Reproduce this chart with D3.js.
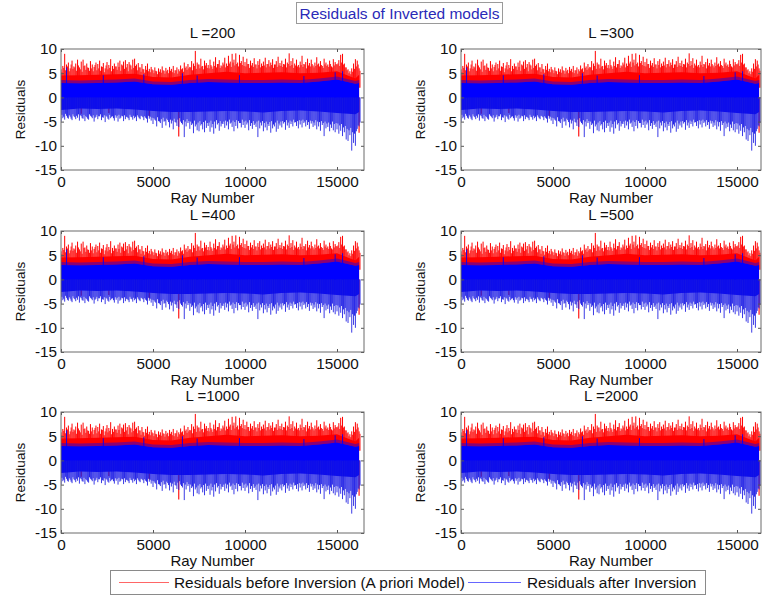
<!DOCTYPE html>
<html>
<head>
<meta charset="utf-8">
<script src="https://cdn.jsdelivr.net/npm/d3@7"></script>
<style>
  body { margin: 0; background: #fff; }
  svg { display: block; }
  text { font-family: "Liberation Sans", Arial, sans-serif; fill: #111; }
</style>
</head>
<body>
<svg id="chart" width="763" height="599"></svg>
<script>
// ---- Data -------------------------------------------------------------
const panelTitles = ["L =200", "L =300", "L =400", "L =500", "L =1000", "L =2000"];
const xTicks = [0, 5000, 10000, 15000];
const yTicks = [10, 5, 0, -5, -10, -15];
const yDomain = [-15, 10];

// Highest / lowest residual in each block of 100 rays (ray 0 … 16200)
const rayStep = 100;
const redPeak = [
  5.8, 6.5, 9.0, 6.8, 7.2, 6.0, 7.6, 6.4, 7.0, 7.8,
  6.2, 7.4, 7.8, 6.6, 7.0, 6.1, 7.5, 6.8, 6.3, 7.2,
  6.9, 7.6, 6.4, 7.1, 6.0, 7.3, 6.7, 7.9, 6.5, 7.0,
  6.4, 7.2, 7.6, 6.8, 7.4, 7.7, 6.9, 7.3, 6.6, 7.8,
  8.0, 6.8, 7.1, 6.2, 6.9, 5.8, 6.5, 7.0, 5.9, 6.3,
  5.6, 6.2, 5.4, 6.0, 5.8, 6.4, 5.5, 6.1, 5.7, 6.3,
  5.9, 6.5, 5.6, 6.2, 5.8, 6.6, 6.0, 7.2, 6.4, 6.9,
  6.3, 7.5, 7.0, 9.6, 7.2, 6.8, 8.0, 6.5, 7.6, 7.1,
  6.7, 7.8, 6.4, 7.4, 8.3, 6.9, 7.7, 6.6, 7.2, 8.2,
  7.0, 8.6, 7.4, 9.0, 7.8, 9.1, 7.2, 8.8, 7.5, 8.4,
  7.3, 8.0, 6.9, 7.6, 7.1, 8.1, 6.8, 7.5, 7.9, 7.0,
  7.4, 8.2, 6.9, 7.7, 7.2, 7.9, 6.8, 7.5, 8.4, 7.1,
  7.6, 6.9, 8.0, 7.2, 9.1, 7.5, 8.1, 7.0, 7.8, 6.7,
  7.4, 8.6, 6.9, 7.3, 8.0, 7.1, 7.8, 6.6, 7.2, 8.3,
  7.0, 7.5, 6.5, 8.0, 7.2, 6.8, 7.6, 6.4, 7.9, 7.3,
  6.8, 7.7, 8.8, 9.0, 7.0, 6.2, 5.8, 5.4, 6.0, 7.0,
  7.9, 7.6, 6.0
];
// Secondary maxima, half a block later (ray 50 … 16250)
const redShoulder = [
  5.2, 6.1, 5.6, 6.4, 5.4, 6.8, 5.9, 6.2, 5.5, 6.6,
  5.8, 5.3, 6.5, 5.7, 6.2, 5.5, 6.0, 5.4, 6.7, 5.6,
  6.0, 5.5, 6.3, 5.2, 6.6, 5.8, 6.1, 5.4, 5.9, 6.4,
  5.7, 6.3, 5.5, 6.6, 5.9, 6.2, 5.4, 6.8, 5.8, 6.1,
  6.5, 5.6, 6.2, 5.3, 5.9, 5.1, 5.7, 5.4, 5.2, 5.8,
  5.0, 5.5, 4.8, 5.3, 5.1, 5.6, 4.9, 5.4, 5.0, 5.5,
  5.2, 5.0, 5.6, 4.9, 5.4, 5.8, 5.3, 6.1, 5.7, 6.0,
  6.2, 5.6, 6.5, 5.9, 6.8, 6.0, 6.4, 5.8, 6.6, 6.1,
  6.0, 6.7, 5.9, 6.5, 6.2, 6.9, 6.1, 6.4, 6.8, 6.2,
  6.5, 7.0, 6.3, 7.2, 6.6, 6.9, 6.4, 7.1, 6.7, 6.5,
  6.4, 6.9, 6.1, 6.6, 6.3, 6.8, 6.0, 6.7, 6.2, 6.5,
  6.6, 6.2, 6.9, 6.4, 6.7, 6.1, 6.8, 6.3, 6.6, 6.5,
  6.3, 6.8, 6.2, 6.9, 6.5, 6.7, 6.1, 6.6, 6.4, 6.2,
  6.7, 6.3, 6.8, 6.0, 6.6, 6.4, 6.9, 6.2, 6.5, 6.8,
  6.4, 6.7, 6.1, 6.8, 6.5, 6.3, 6.9, 6.2, 6.6, 6.9,
  7.0, 6.5, 7.2, 6.8, 6.2, 5.6, 5.0, 4.8, 5.3, 5.9,
  6.4, 6.8, 5.5
];
const blueTrough = [
  -5.0, -4.3, -4.6, -3.8, -4.4, -4.0, -4.7, -3.9, -4.5, -4.2,
  -4.8, -3.9, -4.4, -4.9, -4.1, -4.6, -3.8, -4.3, -5.0, -4.0,
  -4.5, -3.9, -4.7, -4.2, -5.1, -4.0, -4.6, -4.3, -3.9, -4.8,
  -4.2, -5.0, -4.4, -3.8, -4.9, -4.5, -4.1, -4.7, -4.0, -4.6,
  -4.3, -4.9, -4.0, -4.5, -3.9, -4.7, -4.2, -5.2, -4.4, -4.8,
  -5.5, -4.6, -6.0, -4.9, -5.3, -6.3, -5.0, -5.8, -4.7, -6.2,
  -5.4, -6.6, -5.1, -5.9, -6.1, -5.0, -5.6, -8.2, -6.0, -5.3,
  -6.5, -5.7, -7.4, -6.0, -6.8, -7.0, -5.8, -6.6, -7.2, -6.3,
  -5.9, -7.1, -6.2, -7.5, -6.4, -5.6, -6.9, -6.0, -5.5, -6.3,
  -5.8, -6.6, -5.4, -6.1, -7.0, -5.9, -6.4, -5.3, -6.2, -5.7,
  -6.3, -5.6, -6.8, -5.9, -6.5, -5.7, -6.1, -8.2, -6.4, -5.8,
  -7.0, -6.2, -6.8, -5.9, -7.3, -6.4, -6.0, -7.1, -6.5, -5.8,
  -6.2, -5.4, -6.7, -5.8, -6.3, -5.5, -6.0, -5.2, -5.9, -6.4,
  -5.6, -6.2, -5.3, -6.0, -5.7, -6.5, -5.4, -6.1, -5.8, -6.6,
  -6.0, -6.9, -5.7, -8.0, -6.4, -6.1, -7.0, -6.3, -6.8, -7.2,
  -6.6, -7.5, -6.9, -8.0, -7.2, -8.7, -9.0, -7.8, -11.0, -9.4,
  -10.0, -6.5, -6.0
];
const blueShoulder = [
  -3.6, -4.0, -3.4, -4.2, -3.7, -4.4, -3.5, -4.1, -3.8, -3.5,
  -3.7, -4.3, -3.6, -3.9, -4.4, -3.5, -4.0, -3.7, -4.2, -3.6,
  -3.9, -3.5, -4.1, -3.7, -3.8, -4.4, -3.6, -4.0, -4.3, -3.7,
  -3.8, -3.6, -4.2, -3.9, -3.7, -4.0, -4.3, -3.6, -4.1, -3.8,
  -4.0, -3.7, -4.3, -3.8, -4.1, -3.9, -4.4, -3.8, -4.0, -4.2,
  -4.3, -4.8, -4.1, -5.0, -4.5, -4.2, -4.9, -4.4, -5.1, -4.6,
  -4.8, -4.4, -5.2, -4.6, -4.3, -5.3, -4.7, -5.0, -4.5, -4.9,
  -5.0, -5.4, -4.8, -5.6, -5.2, -4.9, -5.5, -5.1, -4.8, -5.3,
  -5.2, -4.8, -5.5, -5.0, -4.7, -5.3, -4.9, -5.4, -5.0, -4.8,
  -5.0, -4.6, -5.2, -4.8, -5.1, -4.7, -4.9, -5.3, -4.6, -5.0,
  -4.8, -5.2, -4.7, -5.3, -4.9, -5.4, -5.0, -4.8, -5.2, -4.9,
  -5.3, -5.0, -5.5, -5.1, -4.9, -5.6, -5.2, -4.8, -5.4, -5.0,
  -4.9, -5.1, -4.7, -5.2, -4.8, -5.0, -4.6, -5.1, -4.9, -4.7,
  -4.8, -4.6, -5.0, -4.7, -5.1, -4.8, -4.9, -5.2, -4.7, -5.0,
  -5.1, -4.9, -5.3, -5.0, -5.4, -5.2, -5.6, -5.0, -5.5, -5.3,
  -5.4, -5.8, -5.5, -6.2, -5.9, -6.5, -6.8, -6.3, -7.2, -7.5,
  -7.0, -5.8, -5.2
];

// Dense band levels per block of 1000 rays (ray 0 … 16000, then 16200)
const coreRays       = [0, 1000, 2000, 3000, 4000, 5000, 6000, 7000, 8000, 9000, 10000, 11000, 12000, 13000, 14000, 15000, 16000, 16200];
const redCoreTop     = [4.5, 4.6, 4.7, 4.8, 4.9, 4.2, 4.1, 4.7, 5.0, 5.3, 5.0, 5.1, 5.2, 5.0, 5.1, 5.4, 3.9, 4.7];
const blueCoreTop    = [3.0, 2.9, 3.0, 3.1, 3.3, 2.7, 2.6, 3.0, 3.2, 3.1, 3.0, 3.0, 3.1, 3.0, 3.3, 3.7, 2.8, 3.0];
const blueCoreBottom = [-2.6, -2.3, -2.4, -2.3, -2.5, -2.8, -3.0, -3.0, -2.9, -2.8, -2.9, -3.1, -2.8, -2.7, -2.9, -3.2, -3.5, -3.0];

// Isolated excursions
const redDipRay     = [1100, 2600, 4800, 6400, 16200];
const redDipValue   = [-3.4, -3.2, -3.9, -8.1, -7.3];
const blueRiseRay   = [300, 2300, 4500, 6600, 7400, 9700, 13200, 14900, 15300];
const blueRiseValue = [6.2, 4.6, 4.8, 5.0, 4.5, 4.6, 4.4, 5.2, 5.4];

const legendLabels = ["Residuals before Inversion (A priori Model)", "Residuals after Inversion"];
const seriesColors = ["#ff0000", "#0000ff"];

// ---- Layout -----------------------------------------------------------
const svg = d3.select("#chart");
const cols = [{ left: 61, width: 303 }, { left: 461, width: 300 }];
const rows = [49, 231, 412];
const plotH = 121;
const pxPerRay = 92 / 5000;
const fontSize = 15;
const blueEdge = 0.6;   // soft upper edge of the blue band where it mixes with red

// Figure title in a framed box
const titleG = svg.append("g");
titleG.append("rect").attr("x", 296.5).attr("y", 2.5).attr("width", 206).attr("height", 21)
  .attr("fill", "#fff").attr("stroke", "#9a9a9a");
titleG.append("text").attr("x", 399.5).attr("y", 18.5).attr("text-anchor", "middle")
  .style("font-size", "15.5px").style("fill", "#2a2ab8").text("Residuals of Inverted models");

panelTitles.forEach((title, idx) => {
  const col = cols[idx % 2];
  const top = rows[Math.floor(idx / 2)];
  const g = svg.append("g").attr("transform", `translate(${col.left},${top})`);
  const W = col.width, H = plotH;

  const x = d3.scaleLinear().domain([0, W / pxPerRay]).range([0, W]);
  const y = d3.scaleLinear().domain(yDomain).range([H, 0]);

  const clipId = "clip" + idx;
  g.append("clipPath").attr("id", clipId).append("rect").attr("width", W).attr("height", H);
  const plot = g.append("g").attr("clip-path", `url(#${clipId})`);

  const band = (lo, hi) => d3.area().x((d, i) => x(coreRays[i])).y0((d, i) => y(lo(i))).y1((d, i) => y(hi(i)));
  const spikes = (parent, values, offset, base, color, width, opacity) =>
    parent.append("g").selectAll("line").data(values).join("line")
      .attr("x1", (d, i) => x(i * rayStep + offset)).attr("x2", (d, i) => x(i * rayStep + offset))
      .attr("y1", y(base)).attr("y2", d => y(d))
      .attr("stroke", color).attr("stroke-width", width).attr("stroke-opacity", opacity);

  // Red series (before inversion)
  plot.append("path").datum(coreRays).attr("fill", seriesColors[0])
    .attr("d", band(() => 0, i => redCoreTop[i]));
  spikes(plot, redShoulder, rayStep / 2, 2, seriesColors[0], 1, 0.9);
  spikes(plot, redPeak, 0, 2, seriesColors[0], 1, 1);
  plot.append("g").selectAll("line").data(redDipRay).join("line")
    .attr("x1", d => x(d)).attr("x2", d => x(d))
    .attr("y1", y(0)).attr("y2", (d, i) => y(redDipValue[i]))
    .attr("stroke", seriesColors[0]).attr("stroke-width", 1.1);

  // Blue series (after inversion)
  plot.append("path").datum(coreRays).attr("fill", seriesColors[1]).attr("fill-opacity", 0.45)
    .attr("d", band(i => blueCoreTop[i], i => blueCoreTop[i] + blueEdge));
  plot.append("path").datum(coreRays).attr("fill", seriesColors[1])
    .attr("d", band(i => blueCoreBottom[i], i => blueCoreTop[i]));
  spikes(plot, blueShoulder, rayStep / 2, 0, "#1010e8", 1, 0.9);
  spikes(plot, blueTrough, 0, 0, "#1818e0", 1, 0.85);
  plot.append("g").selectAll("line").data(blueRiseRay).join("line")
    .attr("x1", d => x(d)).attr("x2", d => x(d))
    .attr("y1", y(0)).attr("y2", (d, i) => y(blueRiseValue[i]))
    .attr("stroke", seriesColors[1]).attr("stroke-width", 1.1).attr("stroke-opacity", 0.85);

  // Axes with inward ticks on all four sides
  const fmt = d => String(d);
  const axB = g.append("g").attr("transform", `translate(0,${H})`)
    .call(d3.axisBottom(x).tickValues(xTicks).tickFormat(fmt).tickSizeInner(-3).tickSizeOuter(0).tickPadding(6.5));
  const axL = g.append("g")
    .call(d3.axisLeft(y).tickValues(yTicks).tickFormat(fmt).tickSizeInner(-3).tickSizeOuter(0).tickPadding(4));
  const axT = g.append("g")
    .call(d3.axisTop(x).tickValues(xTicks).tickFormat("").tickSizeInner(-3).tickSizeOuter(0));
  const axR = g.append("g").attr("transform", `translate(${W},0)`)
    .call(d3.axisRight(y).tickValues(yTicks).tickFormat("").tickSizeInner(-3).tickSizeOuter(0));
  [axB, axL, axT, axR].forEach(a => {
    a.select(".domain").remove();
    a.selectAll(".tick line").attr("stroke", "#555");
    a.selectAll("text").style("font-size", "15.3px").style("fill", "#111").attr("font-family", null);
  });
  g.append("rect").attr("width", W).attr("height", H)
    .attr("fill", "none").attr("stroke", "#6a6a6a").attr("stroke-width", 1);

  // Labels
  g.append("text").attr("x", W / 2).attr("y", -11).attr("text-anchor", "middle")
    .style("font-size", fontSize + "px").text(title);
  g.append("text").attr("x", W / 2).attr("y", H + 32.5).attr("text-anchor", "middle")
    .style("font-size", fontSize + "px").text("Ray Number");
  g.append("text").attr("transform", `translate(${-41},${H / 2}) rotate(-90)`)
    .attr("text-anchor", "middle").attr("dy", "0.35em")
    .style("font-size", "13.5px").text("Residuals");
});

// Legend
const lg = svg.append("g");
lg.append("rect").attr("x", 110.5).attr("y", 570.5).attr("width", 595).attr("height", 24)
  .attr("fill", "#fff").attr("stroke", "#8a8a8a");
const legendX = [[119, 169, 174], [468, 521, 527]];
legendLabels.forEach((lab, i) => {
  lg.append("line").attr("x1", legendX[i][0]).attr("x2", legendX[i][1])
    .attr("y1", 582.5).attr("y2", 582.5).attr("stroke", seriesColors[i]).attr("stroke-opacity", 0.6);
  lg.append("text").attr("x", legendX[i][2]).attr("y", 582.5).attr("dy", "0.35em")
    .style("font-size", "15.4px").text(lab);
});
</script>
</body>
</html>
